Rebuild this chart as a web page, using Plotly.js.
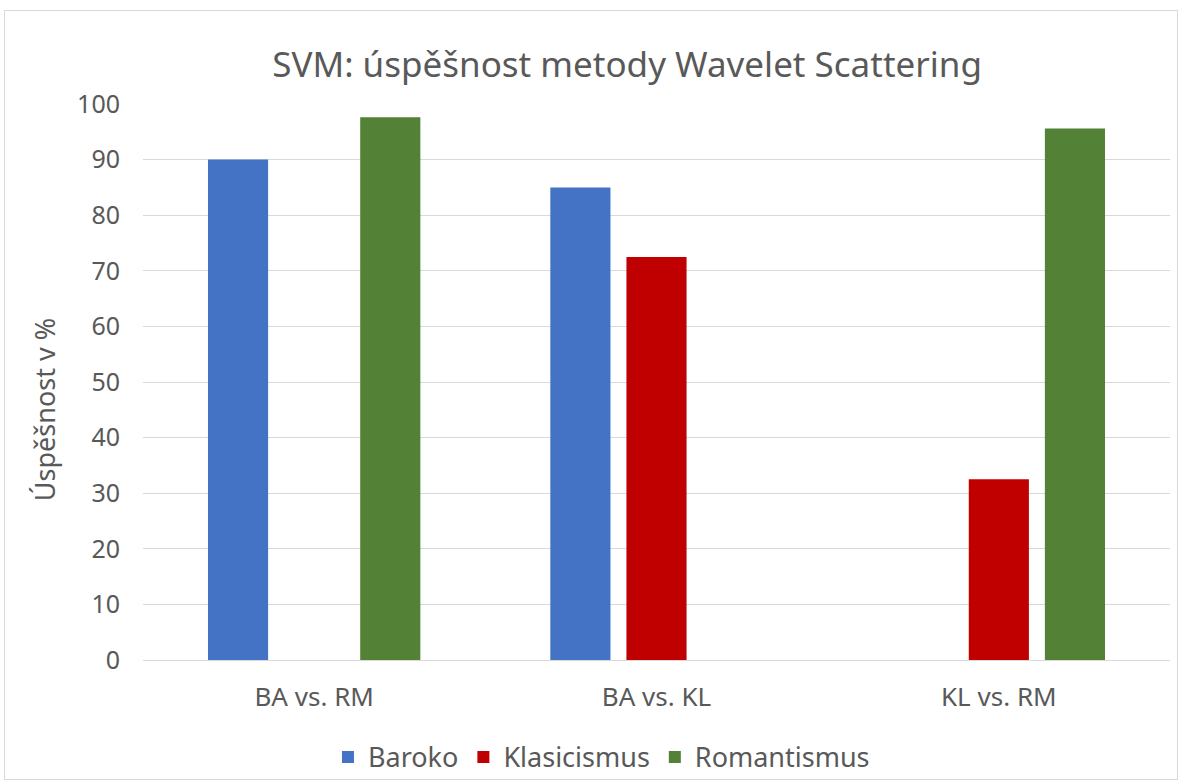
<!DOCTYPE html>
<html>
<head>
<meta charset="utf-8">
<script src="https://cdn.plot.ly/plotly-3.0.1.min.js"></script>
<style>
html,body{margin:0;padding:0;background:#fff;}
#wrap{position:relative;width:1184px;height:784px;}
#chart{width:1184px;height:784px;}
#frame{position:absolute;left:4px;top:10px;width:1174px;height:770px;border:1px solid #d9d9d9;pointer-events:none;box-sizing:border-box;}
</style>
</head>
<body>
<div id="wrap"><div id="chart"></div><div id="frame"></div></div>
<script>
const categories = ["BA vs. RM", "BA vs. KL", "KL vs. RM"];
const baroko = [90, 85, null];
const klasicismus = [null, 72.5, 32.5];
const romantismus = [97.6, null, 95.6];
const seriesNames = ["Baroko", "Klasicismus", "Romantismus"];
const colors = ["#4472C4", "#C00000", "#538135"];
const yTicks = [0, 10, 20, 30, 40, 50, 60, 70, 80, 90, 100];

const FONT = "Noto Sans, sans-serif";
const data = [baroko, klasicismus, romantismus].map((vals, i) => ({
  type: "bar",
  name: seriesNames[i],
  x: categories,
  y: vals,
  marker: {color: colors[i], line: {width: 0}},
  hoverinfo: "x+y+name"
}));

const layout = {
  width: 1184, height: 784,
  margin: {l: 143, r: 14, t: 104, b: 124},
  paper_bgcolor: "#fff", plot_bgcolor: "#fff",
  title: {text: "SVM: úspěšnost metody Wavelet Scattering", x: 0.5296, xanchor: "center", y: 0.917, yanchor: "middle",
          font: {family: FONT, size: 35, color: "#595959"}},
  barmode: "group",
  bargap: 0.333,
  bargroupgap: 0.21,
  xaxis: {
    automargin: false,
    tickfont: {family: FONT, size: 26, color: "#595959"},
    showgrid: false, showline: true, linecolor: "#d9d9d9", linewidth: 1,
    ticks: "", ticklen: 0, ticklabelstandoff: 14
  },
  yaxis: {
    automargin: false,
    range: [0, 100], tickvals: yTicks, ticktext: yTicks.map(String),
    tickfont: {family: FONT, size: 25, color: "#595959"},
    showgrid: true, gridcolor: "#d9d9d9", gridwidth: 1,
    zeroline: false, showline: false, ticks: "", ticklabelstandoff: 22
  },
  annotations: [{
    text: "Úspěšnost v %", textangle: -90, xref: "paper", yref: "paper",
    x: -0.096, y: 0.45, xanchor: "center", yanchor: "middle", showarrow: false,
    font: {family: FONT, size: 27, color: "#595959"}
  }],
  legend: {orientation: "h", xref: "container", yref: "container", x: 0.508, xanchor: "center", y: 0.034, yanchor: "middle",
           font: {family: FONT, size: 27, color: "#595959"}, itemwidth: 30, traceorder: "normal"},
  showlegend: true
};
Plotly.newPlot("chart", data, layout, {displayModeBar: false, staticPlot: true});
</script>
</body>
</html>
